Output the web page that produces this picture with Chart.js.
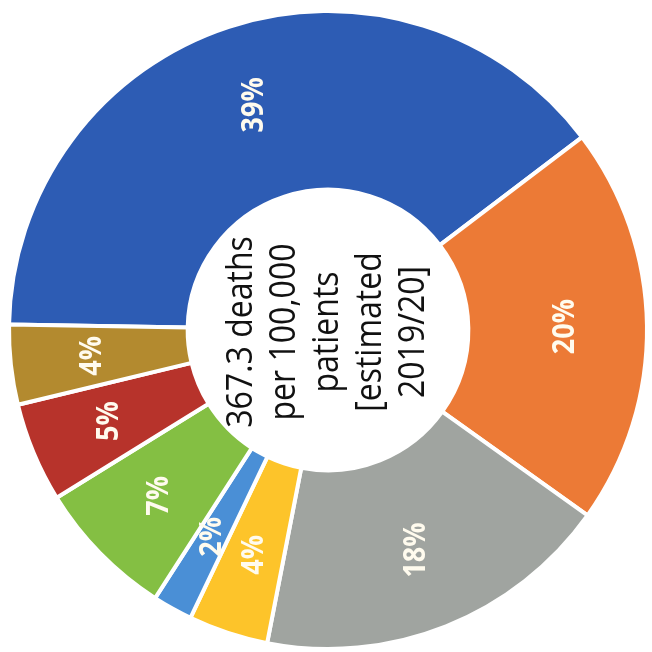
<!DOCTYPE html>
<html>
<head>
<meta charset="utf-8">
<script src="https://cdn.jsdelivr.net/npm/chart.js@4"></script>
<style>
  html, body { margin: 0; padding: 0; background: #ffffff; }
  #wrap { width: 652px; height: 652px; }
</style>
</head>
<body>
<div id="wrap"><canvas id="chartDeaths" width="652" height="652"></canvas></div>
<script>
// shares in percent, in drawing order (clockwise from the left)
var categories = ['A', 'B', 'C', 'D', 'E', 'F', 'G', 'H'];
var shares = [39, 20, 18, 4, 2, 7, 5, 4];
var shareLabels = ['39%', '20%', '18%', '4%', '2%', '7%', '5%', '4%'];
var centerLines = ['367.3 deaths', 'per 100,000', 'patients', '[estimated', '2019/20]'];

window.color = {
    blue: '#2d5cb4',
    orange: '#ec7a36',
    grey: '#a0a4a0',
    yellow: '#fdc42a',
    lightBlue: '#4a8fd6',
    green: '#84bf43',
    red: '#b7332b',
    brown: '#b38a2f'
};

// text in the picture runs bottom-to-top and is a bit taller than wide
var textPlugin = {
    id: 'textPlugin',
    afterDatasetsDraw: function(chart) {
        var ctx = chart.ctx;
        var arcs = chart.getDatasetMeta(0).data;

        ctx.save();
        ctx.fillStyle = '#fffbee';
        ctx.textAlign = 'center';
        ctx.textBaseline = 'middle';
        ctx.font = 'bold 27px "Open Sans"';
        arcs.forEach(function(arc, i) {
            var p = arc.getProps(['x', 'y', 'startAngle', 'endAngle', 'innerRadius', 'outerRadius'], true);
            var mid = (p.startAngle + p.endAngle) / 2;
            var r = p.innerRadius + 0.54 * (p.outerRadius - p.innerRadius);
            ctx.save();
            ctx.translate(p.x + Math.cos(mid) * r, p.y + Math.sin(mid) * r);
            ctx.rotate(-Math.PI / 2);
            ctx.scale(1, 1.15);
            ctx.fillText(shareLabels[i], 0, 0);
            ctx.restore();
        });
        ctx.restore();

        ctx.save();
        ctx.fillStyle = '#111111';
        ctx.textAlign = 'center';
        ctx.textBaseline = 'alphabetic';
        ctx.font = '32px "Open Sans"';
        ctx.translate(338, 332);
        ctx.rotate(-Math.PI / 2);
        centerLines.forEach(function(line, i) {
            ctx.save();
            ctx.translate(0, (i - 2) * 43);
            ctx.scale(1, 1.12);
            ctx.fillText(line, 0, 0);
            ctx.restore();
        });
        ctx.restore();
    }
};

function graficoMortes() {
    var ctx = document.getElementById('chartDeaths').getContext('2d');

    var data = {
        labels: categories,
        datasets: [{
            data: shares,
            backgroundColor: [
                window.color.blue,
                window.color.orange,
                window.color.grey,
                window.color.yellow,
                window.color.lightBlue,
                window.color.green,
                window.color.red,
                window.color.brown
            ],
            borderColor: '#ffffff',
            borderWidth: 4
        }]
    };

    new Chart(ctx, {
        type: 'doughnut',
        data: data,
        options: {
            responsive: false,
            animation: false,
            cutout: '44%',
            rotation: 271,
            circumference: 360,
            layout: {
                padding: { left: 7, right: 3, top: 9, bottom: 1 }
            },
            plugins: {
                legend: { display: false },
                tooltip: { enabled: false }
            }
        },
        plugins: [textPlugin]
    });
}

graficoMortes();
</script>
</body>
</html>
